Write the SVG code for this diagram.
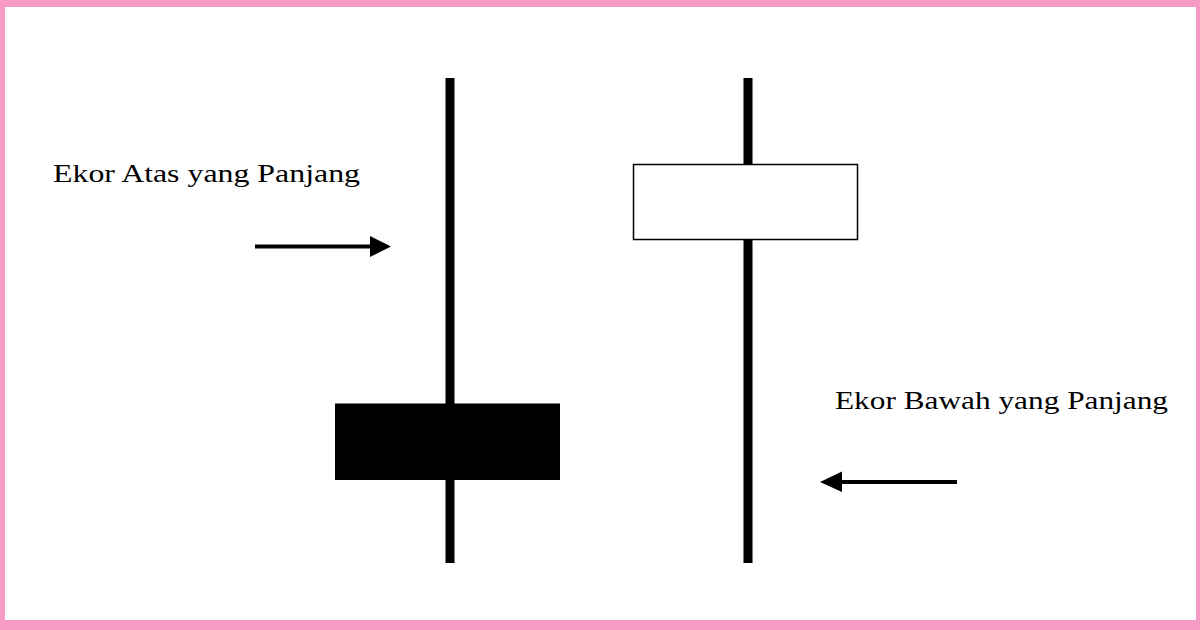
<svg xmlns="http://www.w3.org/2000/svg" width="1200" height="630" viewBox="0 0 1200 630">
  <defs>
    <style>
      .wick { fill: #000; }
      .label { font-family: "Liberation Serif", "DejaVu Serif", serif; font-size: 25px; fill: #000; }
      .arrow { stroke: #000; stroke-width: 4; fill: none; }
      .head { fill: #000; }
    </style>
  </defs>
  <rect x="0" y="0" width="1200" height="630" fill="#fff"/>
  <g id="frame" fill="#f79ac5">
    <rect x="0" y="0" width="1200" height="7"/>
    <rect x="0" y="620" width="1200" height="10"/>
    <rect x="0" y="0" width="5" height="630"/>
    <rect x="1196" y="0" width="4" height="630"/>
  </g>
  <g id="candle-black">
    <rect class="wick" x="445.5" y="78" width="9" height="485"/>
    <rect x="335" y="403.5" width="225" height="76.5" fill="#000"/>
  </g>
  <g id="candle-white">
    <rect class="wick" x="743.5" y="78" width="9" height="485"/>
    <rect x="633.5" y="164.5" width="224" height="75" fill="#fff" stroke="#000" stroke-width="1.5"/>
  </g>
  <g id="label-upper">
    <text class="label" x="53" y="182" textLength="307" lengthAdjust="spacingAndGlyphs">Ekor Atas yang Panjang</text>
  </g>
  <g id="label-lower">
    <text class="label" x="835" y="409" textLength="333" lengthAdjust="spacingAndGlyphs">Ekor Bawah yang Panjang</text>
  </g>
  <g id="connectors">
    <line class="arrow" x1="255" y1="246.5" x2="372" y2="246.5"/>
    <polygon class="head" points="370,236 391,246.5 370,257"/>
    <line class="arrow" x1="957" y1="482" x2="840" y2="482"/>
    <polygon class="head" points="842,471.5 820,482 842,492"/>
  </g>
</svg>
